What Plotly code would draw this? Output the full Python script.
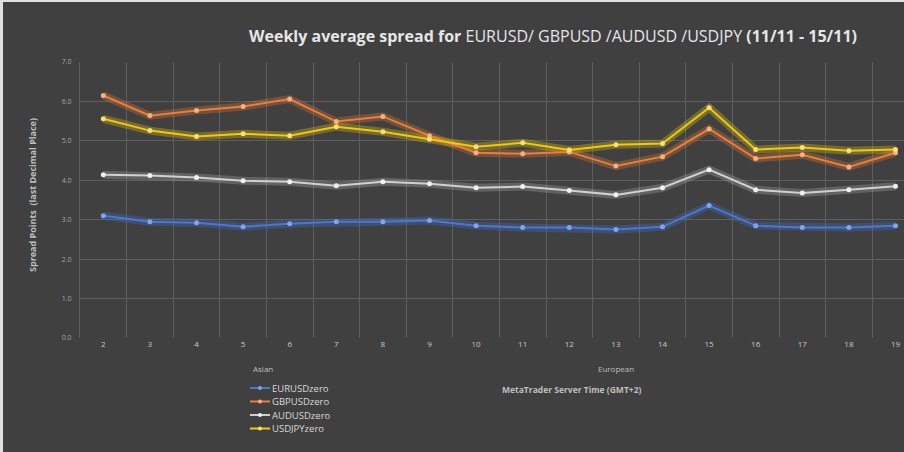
import plotly.graph_objects as go

hours = ["2", "3", "4", "5", "6", "7", "8", "9", "10", "11", "12", "13", "14", "15", "16", "17", "18", "19"]
eurusd = [3.10, 2.95, 2.92, 2.82, 2.90, 2.95, 2.95, 2.98, 2.85, 2.80, 2.80, 2.75, 2.82, 3.36, 2.85, 2.80, 2.80, 2.85]
gbpusd = [6.15, 5.64, 5.77, 5.87, 6.06, 5.49, 5.62, 5.13, 4.70, 4.67, 4.72, 4.36, 4.60, 5.30, 4.55, 4.65, 4.34, 4.70]
audusd = [4.14, 4.12, 4.07, 3.99, 3.96, 3.86, 3.96, 3.91, 3.81, 3.84, 3.74, 3.63, 3.81, 4.27, 3.76, 3.68, 3.76, 3.85]
usdjpy = [5.56, 5.26, 5.11, 5.18, 5.13, 5.36, 5.23, 5.04, 4.85, 4.95, 4.77, 4.90, 4.93, 5.84, 4.78, 4.83, 4.75, 4.78]
series_names = ["EURUSDzero", "GBPUSDzero", "AUDUSDzero", "USDJPYzero"]

styles = [
    ("#4a78d0", "#7ea6f0", "rgba(70,120,230,0.28)"),
    ("#ee7d35", "#f6b088", "rgba(240,130,50,0.28)"),
    ("#d0d0d0", "#f0f0f0", "rgba(220,220,220,0.22)"),
    ("#f2c80c", "#fae070", "rgba(235,210,20,0.30)"),
]
series = list(zip(series_names, [eurusd, gbpusd, audusd, usdjpy], styles))

W, H = 904, 452
L, R, T, B = 80, 0, 62, 114
pw, ph = W - L - R, H - T - B

def px(x):
    return (x - L) / pw

def py(y):
    return (H - B - y) / ph

fig = go.Figure()

# soft glow underlays
for name, vals, (col, mcol, glow) in series:
    fig.add_trace(go.Scatter(x=hours, y=vals, mode="lines", line=dict(color=glow, width=8),
                             showlegend=False, hoverinfo="skip"))

for name, vals, (col, mcol, glow) in series:
    fig.add_trace(go.Scatter(x=hours, y=vals, mode="lines+markers", name=name,
                             line=dict(color=col, width=2),
                             marker=dict(color=mcol, size=5), showlegend=False))

grid = "#5e5e5e"
fig.update_layout(
    width=W, height=H,
    margin=dict(l=L, r=R, t=T, b=B),
    paper_bgcolor="#404040", plot_bgcolor="#404040",
    font=dict(family="Open Sans, sans-serif", color="#bfbfbf"),
    title=dict(
        text="<b>Weekly average spread for </b>EURUSD/ GBPUSD /AUDUSD /USDJPY <b>(11/11 - 15/11)</b>",
        x=553 / W, xanchor="center", xref="container",
        y=1 - 36 / H, yanchor="middle", yref="container",
        font=dict(size=16, color="#e6e6e6", family="Open Sans, sans-serif"),
    ),
    xaxis=dict(
        type="category", range=[-0.5, pw / 46.6 - 0.5],
        tickson="boundaries", showgrid=True, gridcolor=grid, gridwidth=1,
        ticks="", tickfont=dict(size=8, color="#c8c8c8"),
        showline=False, zeroline=False,
    ),
    yaxis=dict(
        range=[0, 7], dtick=1, tickformat=".1f",
        showgrid=True, gridcolor=grid, gridwidth=1,
        tickfont=dict(size=7, color="#a6a6a6"), ticks="", ticklabelstandoff=6,
        showline=True, linecolor=grid, zeroline=False,
    ),
    showlegend=False,
)

annos = [
    dict(text="<b>Spread Points  (last Decimal Place)</b>", x=px(32), y=py(195), textangle=-90,
         font=dict(size=9, color="#bfbfbf")),
    dict(text="Asian", x=px(263), y=py(368), font=dict(size=8, color="#bfbfbf")),
    dict(text="European", x=px(616), y=py(368), font=dict(size=8, color="#bfbfbf")),
    dict(text="<b>MetaTrader Server Time (GMT+2)</b>", x=px(572), y=py(389), font=dict(size=8.5, color="#bfbfbf")),
]
for a in annos:
    fig.add_annotation(xref="paper", yref="paper", showarrow=False, xanchor="center", yanchor="middle", **a)

# compact legend
leg_rows = [388, 401.5, 415, 428.5]
for (name, vals, (col, mcol, glow)), ly in zip(series, leg_rows):
    fig.add_shape(type="line", xref="paper", yref="paper", x0=px(250), x1=px(270), y0=py(ly), y1=py(ly),
                  line=dict(color=col, width=2), layer="above")
    fig.add_shape(type="circle", xref="paper", yref="paper", x0=px(258), x1=px(262),
                  y0=py(ly + 2), y1=py(ly - 2), fillcolor=mcol, line=dict(width=0), layer="above")
    fig.add_annotation(xref="paper", yref="paper", showarrow=False, xanchor="left", yanchor="middle",
                       x=px(270), y=py(ly), text=name, font=dict(size=9.5, color="#d9d9d9"))

# light screenshot border strips on left and top
fig.add_shape(type="rect", xref="paper", yref="paper", x0=px(0), x1=px(3), y0=py(H), y1=py(0),
              fillcolor="#e0e0e0", line=dict(width=0), layer="above")
fig.add_shape(type="rect", xref="paper", yref="paper", x0=px(0), x1=px(W), y0=py(2), y1=py(0),
              fillcolor="#e0e0e0", line=dict(width=0), layer="above")

fig.write_html("out.html", config={"displayModeBar": False},
               post_script="document.body.style.margin='0';")
